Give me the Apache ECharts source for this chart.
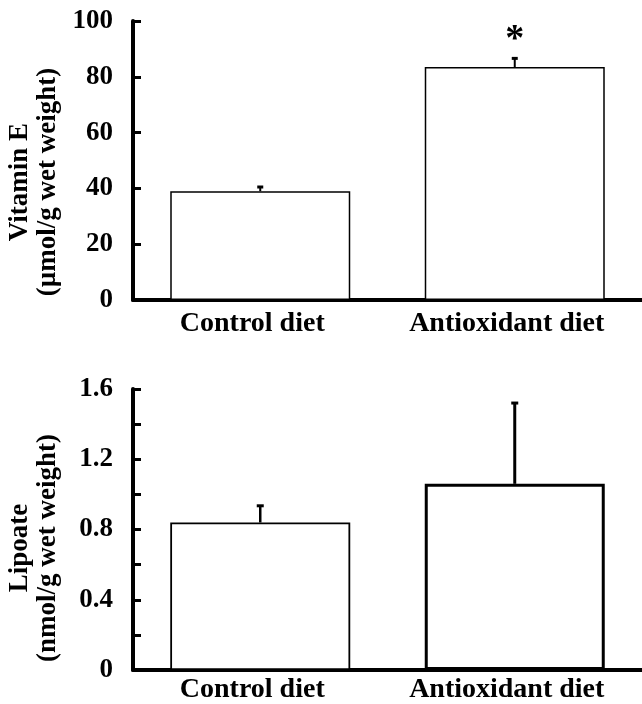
<!DOCTYPE html>
<html>
<head>
<meta charset="utf-8">
<script src="https://cdn.jsdelivr.net/npm/echarts@6/dist/echarts.min.js"></script>
<style>
  html, body { margin: 0; padding: 0; background: #fff; }
  #chart { width: 642px; height: 704px; }
</style>
</head>
<body>
<div id="chart"></div>
<script>
// 数据
const categories = ['Control diet', 'Antioxidant diet']
const vitaminE = [39, 83.5]
const vitaminEErr = [1.5, 3.1]
const lipoate = [0.84, 1.06]
const lipoateErr = [0.095, 0.46]

const FONT = '"Liberation Serif", "Times New Roman", serif'

const myChart = echarts.init(document.getElementById('chart'))

// 误差线（只画上半部分）
const errorRender = (capW, widths) => (params, api) => {
  const idx = api.value(0)
  const base = api.coord([idx, api.value(1)])
  const top = api.coord([idx, api.value(1) + api.value(2)])
  const lw = widths[params.dataIndex]
  return {
    type: 'group',
    children: [
      { type: 'line', shape: { x1: base[0], y1: base[1], x2: top[0], y2: top[1] }, style: { stroke: '#000', lineWidth: lw } },
      { type: 'line', shape: { x1: top[0] - capW / 2, y1: top[1], x2: top[0] + capW / 2, y2: top[1] }, style: { stroke: '#000', lineWidth: 3 } }
    ]
  }
}

const xAxisBase = (gridIndex, margin) => ({
  type: 'category',
  gridIndex,
  data: categories,
  axisLine: { lineStyle: { color: '#000', width: 4 } },
  axisTick: { show: false },
  axisLabel: {
    color: '#000', fontFamily: FONT, fontWeight: 'bold', fontSize: 28,
    margin, padding: [0, 16, 0, 0]
  }
})

const yAxisBase = (gridIndex) => ({
  type: 'value',
  gridIndex,
  axisLine: { show: true, lineStyle: { color: '#000', width: 4 } },
  axisTick: { show: true, inside: true, length: 8, lineStyle: { color: '#000', width: 3 } },
  axisLabel: { color: '#000', fontFamily: FONT, fontWeight: 'bold', fontSize: 27, margin: 20 },
  splitLine: { show: false }
})

const option = {
  animation: false,
  grid: [
    { left: 133, top: 21, width: 514, height: 279 },
    { left: 133, top: 389, width: 514, height: 282 }
  ],
  xAxis: [xAxisBase(0, 10), xAxisBase(1, 6)],
  yAxis: [
    Object.assign(yAxisBase(0), { min: 0, max: 100, interval: 20 }),
    Object.assign(yAxisBase(1), {
      min: 0, max: 1.6, interval: 0.2,
      axisLabel: Object.assign(yAxisBase(1).axisLabel, {
        formatter: (v) => {
          const k = Math.round(v * 10)
          if (k % 4 !== 0) return ''
          return k === 0 ? '0' : v.toFixed(1)
        }
      })
    })
  ],
  graphic: [
    {
      type: 'text', x: 34, y: 182, rotation: Math.PI / 2,
      style: {
        text: 'Vitamin E\n(µmol/g wet weight)', fill: '#000',
        font: 'bold 27px ' + FONT, lineHeight: 28,
        textAlign: 'center', textVerticalAlign: 'middle'
      }
    },
    {
      type: 'text', x: 34, y: 548, rotation: Math.PI / 2,
      style: {
        text: 'Lipoate\n(nmol/g wet weight)', fill: '#000',
        font: 'bold 27px ' + FONT, lineHeight: 28,
        textAlign: 'center', textVerticalAlign: 'middle'
      }
    }
  ],
  series: [
    {
      type: 'bar', xAxisIndex: 0, yAxisIndex: 0, barWidth: 180,
      itemStyle: { color: '#fff', borderColor: '#000', borderWidth: 1.5 },
      data: vitaminE.map((v, i) => i === 1
        ? {
            value: v,
            label: {
              show: true, position: 'top', distance: 8, formatter: '*',
              color: '#000', fontFamily: FONT, fontWeight: 'bold', fontSize: 38
            }
          }
        : v)
    },
    {
      type: 'custom', xAxisIndex: 0, yAxisIndex: 0, z: 3,
      renderItem: errorRender(6, [2, 2]),
      data: vitaminE.map((v, i) => [i, v, vitaminEErr[i]])
    },
    {
      type: 'bar', xAxisIndex: 1, yAxisIndex: 1, barWidth: 180,
      data: lipoate.map((v, i) => ({
        value: v,
        itemStyle: { color: '#fff', borderColor: '#000', borderWidth: i === 0 ? 1.8 : 3 }
      }))
    },
    {
      type: 'custom', xAxisIndex: 1, yAxisIndex: 1, z: 3,
      renderItem: errorRender(7, [2.5, 3]),
      data: lipoate.map((v, i) => [i, v, lipoateErr[i]])
    }
  ]
}

myChart.setOption(option)
</script>
</body>
</html>
